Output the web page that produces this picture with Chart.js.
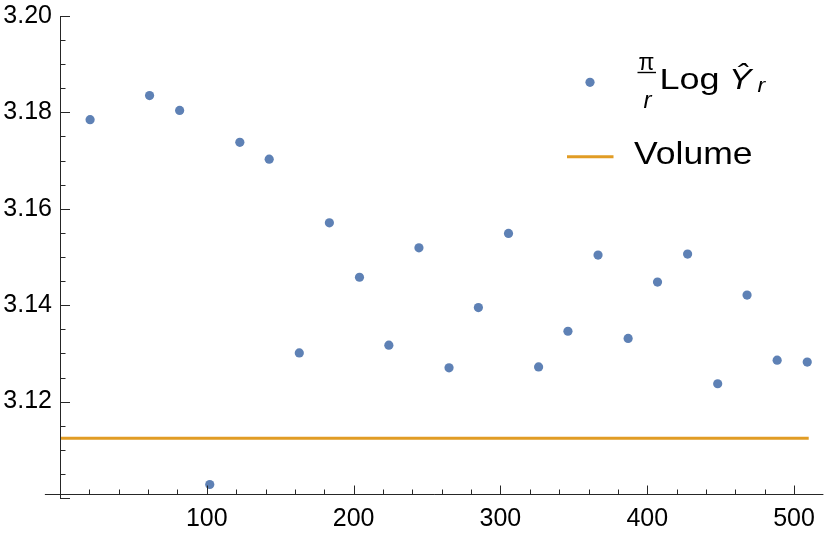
<!DOCTYPE html>
<html>
<head>
<meta charset="utf-8">
<script src="https://cdn.jsdelivr.net/npm/chart.js@4"></script>
<style>
html,body{margin:0;padding:0;background:#fff;}
#wrap{width:828px;height:535px;position:relative;}
</style>
</head>
<body>
<div id="wrap"><canvas id="c" width="828" height="535"></canvas></div>
<script>
// ---- data ----
const rValues = [20.5, 61, 81.5, 102, 122.5, 142.5, 163, 183.5, 204, 224, 244.5, 265, 285, 305.5, 326, 346, 366.5, 387, 407, 427.5, 448, 468, 488.5, 509];
const logYValues = [3.1785, 3.1835, 3.1804, 3.1028, 3.1738, 3.1703, 3.1301, 3.1571, 3.1458, 3.1317, 3.1519, 3.1270, 3.1395, 3.1549, 3.1272, 3.1346, 3.1504, 3.1331, 3.1448, 3.1506, 3.1237, 3.1421, 3.1286, 3.1282];
const volumeValue = 3.1124;
const volumeRange = [0, 510];
const xTickValues = [100, 200, 300, 400, 500];
const yTickValues = [3.12, 3.14, 3.16, 3.18, 3.20];
const seriesNames = ['Log Ŷ', 'Volume'];

const blue = '#5E81B5';
const orange = '#E19C24';
const axisColor = '#262626';
const fontFam = '"Liberation Sans", Arial, sans-serif';

const pointData = rValues.map((r, i) => ({x: r, y: logYValues[i]}));
const volumeData = volumeRange.map(r => ({x: r, y: volumeValue}));

function stretchedText(ctx, text, x, y, font, sx) {
  ctx.save();
  ctx.font = font;
  ctx.translate(x, y);
  ctx.scale(sx, 1);
  ctx.fillText(text, 0, 0);
  ctx.restore();
}

const axesPlugin = {
  id: 'mmaAxes',
  afterDatasetsDraw(chart) {
    const ctx = chart.ctx;
    const xs = chart.scales.x, ys = chart.scales.y;
    const x0 = Math.round(xs.getPixelForValue(0));
    const yTop = ys.getPixelForValue(3.20);
    const yBot = ys.getPixelForValue(3.10);
    const yAxisX = Math.round(ys.getPixelForValue(3.1008)) + 0.5;
    ctx.save();
    ctx.strokeStyle = axisColor;
    ctx.lineWidth = 1;
    // y axis
    ctx.beginPath();
    ctx.moveTo(x0 + 0.5, yTop);
    ctx.lineTo(x0 + 0.5, yBot + 0.5);
    ctx.stroke();
    // x axis
    ctx.beginPath();
    ctx.moveTo(xs.getPixelForValue(-10.3), yAxisX);
    ctx.lineTo(xs.getPixelForValue(520), yAxisX);
    ctx.stroke();
    // y ticks (major every 0.02, minor every 0.005)
    for (let k = 0; k <= 20; k++) {
      const v = 3.10 + k * 0.005;
      const py = Math.round(ys.getPixelForValue(v)) + 0.5;
      const len = (k % 4 === 0) ? 9.5 : 5;
      ctx.beginPath();
      ctx.moveTo(x0, py);
      ctx.lineTo(x0 + 0.5 + len, py);
      ctx.stroke();
    }
    // x ticks (major every 100, minor every 20)
    for (let v = 20; v <= 500; v += 20) {
      const px = Math.round(xs.getPixelForValue(v)) + 0.5;
      const len = (v % 100 === 0) ? 9 : 5;
      ctx.beginPath();
      ctx.moveTo(px, yAxisX);
      ctx.lineTo(px, yAxisX - len);
      ctx.stroke();
    }
    ctx.restore();
  },
  afterDraw(chart) {
    const ctx = chart.ctx;
    ctx.save();
    // legend entry 1: point marker
    ctx.fillStyle = blue;
    ctx.beginPath();
    ctx.arc(590, 82.3, 4.6, 0, Math.PI * 2);
    ctx.fill();
    ctx.fillStyle = '#000';
    ctx.textBaseline = 'alphabetic';
    // fraction pi / r
    ctx.textAlign = 'center';
    ctx.font = '23px ' + fontFam;
    ctx.fillText('π', 646.5, 69.5);
    ctx.strokeStyle = '#000';
    ctx.lineWidth = 1.4;
    ctx.beginPath();
    ctx.moveTo(637.5, 72.5);
    ctx.lineTo(656, 72.5);
    ctx.stroke();
    ctx.font = 'italic 24px ' + fontFam;
    ctx.fillText('r', 647.5, 108);
    // Log Y_r
    ctx.textAlign = 'left';
    stretchedText(ctx, 'Log', 659.5, 88.5, '30px ' + fontFam, 1.2);
    stretchedText(ctx, 'Ŷ', 729, 88.5, 'italic 30px ' + fontFam, 1.12);
    stretchedText(ctx, 'r', 757.5, 92, 'italic 21px ' + fontFam, 1.1);
    // legend entry 2: line
    ctx.strokeStyle = orange;
    ctx.lineWidth = 3;
    ctx.beginPath();
    ctx.moveTo(567, 156.7);
    ctx.lineTo(613.5, 156.7);
    ctx.stroke();
    ctx.fillStyle = '#000';
    stretchedText(ctx, seriesNames[1], 634, 164, '32px ' + fontFam, 1.11);
    ctx.restore();
  }
};

new Chart(document.getElementById('c'), {
  type: 'scatter',
  data: {
    datasets: [
      {
        label: seriesNames[0],
        data: pointData,
        backgroundColor: blue,
        borderWidth: 0,
        pointRadius: 4.6,
        pointHoverRadius: 4.6
      },
      {
        label: seriesNames[1],
        type: 'line',
        data: volumeData,
        borderColor: orange,
        borderWidth: 3,
        pointRadius: 0,
        fill: false,
        tension: 0
      }
    ]
  },
  plugins: [axesPlugin],
  options: {
    responsive: false,
    animation: false,
    devicePixelRatio: 1,
    layout: {padding: {top: 16, right: 3, left: 0, bottom: 0}},
    plugins: {legend: {display: false}, tooltip: {enabled: false}},
    scales: {
      x: {
        type: 'linear',
        min: 0,
        max: 520,
        afterFit: s => { s.height = 37; s.paddingLeft = 0; s.paddingRight = 0; },
        afterBuildTicks: s => { s.ticks = xTickValues.map(v => ({value: v})); },
        ticks: {
          autoSkip: false,
          maxRotation: 0,
          padding: 6,
          color: '#000',
          font: {family: fontFam, size: 25},
          callback: v => String(v)
        },
        grid: {display: false, drawTicks: false},
        border: {display: false}
      },
      y: {
        type: 'linear',
        min: 3.10,
        max: 3.20,
        afterFit: s => { s.width = 60; s.paddingTop = 0; s.paddingBottom = 0; },
        afterBuildTicks: s => { s.ticks = yTickValues.map(v => ({value: v})); },
        ticks: {
          padding: 8,
          color: '#000',
          font: {family: fontFam, size: 25},
          callback: v => Number(v).toFixed(2)
        },
        grid: {display: false, drawTicks: false},
        border: {display: false}
      }
    }
  }
});
</script>
</body>
</html>
